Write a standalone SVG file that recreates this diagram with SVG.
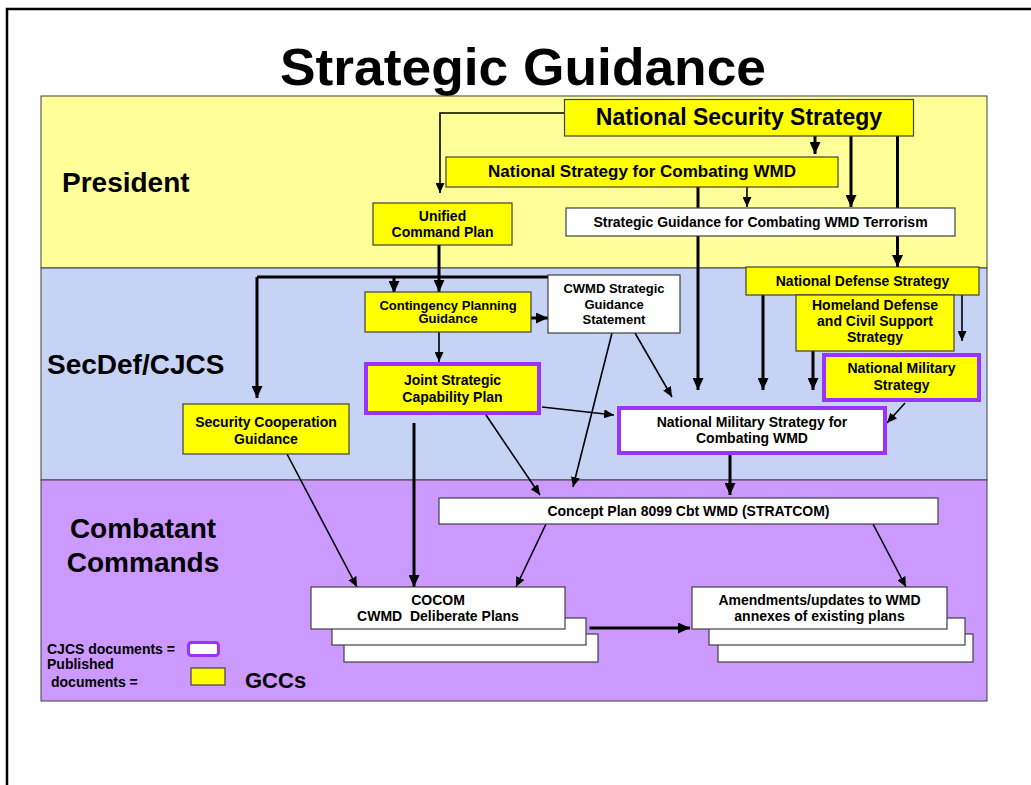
<svg xmlns="http://www.w3.org/2000/svg" width="1031" height="785" viewBox="0 0 1031 785">
<defs>
<style>
text{font-family:"Liberation Sans",Arial,sans-serif;font-weight:bold;fill:#000;}
.c{text-anchor:middle;}
.box{stroke:#404040;stroke-width:1.2;}
.y{fill:#FFFF00;}
.w{fill:#FFFFFF;}
.pb{fill:none;stroke:#9933FF;stroke-width:4;}
.thick{stroke:#000;stroke-width:3;fill:none;marker-end:url(#ab);}
.thin{stroke:#000;stroke-width:1.6;fill:none;marker-end:url(#as);}
.n14{font-size:14px;}
.n13{font-size:13px;}
</style>
<marker id="ab" markerWidth="12" markerHeight="11" refX="12" refY="5.5" orient="auto" markerUnits="userSpaceOnUse"><path d="M0,0 L12,5.5 L0,11 z" fill="#000"/></marker>
<marker id="as" markerWidth="10" markerHeight="9" refX="10" refY="4.5" orient="auto" markerUnits="userSpaceOnUse"><path d="M0,0 L10,4.5 L0,9 z" fill="#000"/></marker>
</defs>
<rect width="1031" height="785" fill="#fff"/>
<path d="M7,785 V9 H1031" fill="none" stroke="#000" stroke-width="2.5"/>
<text x="523" y="85" class="c" font-size="52" textLength="486" lengthAdjust="spacingAndGlyphs">Strategic Guidance</text>
<g id="bands">
<rect x="41" y="96" width="946" height="172" fill="#FFFF99" stroke="#404040" stroke-width="1"/>
<rect x="41" y="268" width="946" height="212" fill="#C6D3F5" stroke="#404040" stroke-width="1"/>
<rect x="41" y="480" width="946" height="221" fill="#CC99FF" stroke="#404040" stroke-width="1"/>
<text x="62" y="192" font-size="28">President</text>
<text x="47" y="374" font-size="28">SecDef/CJCS</text>
<text x="143" y="538" class="c" font-size="28">Combatant</text>
<text x="143" y="572" class="c" font-size="28">Commands</text>
</g>
<g id="connectors">
<path class="thin" d="M564,113 H440 V193" stroke-width="1.3"/>
<path class="thick" d="M815,136 V154"/>
<path class="thick" d="M851,136 V207"/>
<path class="thick" d="M897.5,136 V267"/>
<path class="thin" d="M747,187 V207"/>
<path class="thick" d="M698,187 V390"/>
<path class="thick" d="M439,245 V292"/>
<path d="M548,277 H257" stroke="#000" stroke-width="3" fill="none"/>
<path class="thick" d="M257,277 V398"/>
<path class="thick" d="M394,277 V293"/>
<path class="thick" d="M531,318 H548"/>
<path class="thin" d="M439,332 V362" stroke-width="2"/>
<path class="thin" d="M612,333 L573,487"/>
<path class="thin" d="M635,333 L672,397"/>
<path class="thin" d="M542,407 L614,415"/>
<path class="thin" d="M486,415 L540,495"/>
<path class="thick" d="M414,423 V587"/>
<path class="thin" d="M287,454 L357,587"/>
<path class="thick" d="M763,295 V390"/>
<path class="thick" d="M813,351 V390"/>
<path class="thin" d="M962,295 V341" stroke-width="2.4"/>
<path class="thin" d="M905,403 L887,423" stroke-width="2"/>
<path class="thick" d="M730,455 V495"/>
<path class="thin" d="M546,524 L516,587"/>
<path class="thin" d="M873,524 L906,587"/>
<path class="thick" d="M589.5,628 H690"/>
</g>
<g id="nss">
<rect class="box y" x="564.5" y="99.5" width="349" height="36.5"/>
<text x="739" y="125" class="c" font-size="23">National Security Strategy</text>
</g>
<g id="nscwmd">
<rect class="box y" x="446" y="157" width="392" height="30"/>
<text x="642" y="177" class="c" font-size="17">National Strategy for Combating WMD</text>
</g>
<g id="ucp">
<rect class="box y" x="373" y="203" width="139" height="42"/>
<text x="442.5" y="221" class="c n14">Unified</text>
<text x="442.5" y="237" class="c n14">Command Plan</text>
</g>
<g id="sgcwmdt">
<rect class="box w" x="566" y="208" width="389" height="28"/>
<text x="760.5" y="227" class="c n14">Strategic Guidance for Combating WMD Terrorism</text>
</g>
<g id="nds">
<rect class="box y" x="746" y="267" width="233" height="28"/>
<text x="862.5" y="286" class="c n14">National Defense Strategy</text>
</g>
<g id="hdcss">
<rect class="box y" x="796" y="295" width="158" height="56"/>
<text x="875" y="310" class="c n14">Homeland Defense</text>
<text x="875" y="326" class="c n14">and Civil Support</text>
<text x="875" y="342" class="c n14">Strategy</text>
</g>
<g id="nms">
<rect class="y" x="824" y="355" width="155" height="45"/>
<rect class="pb" x="824" y="355" width="155" height="45"/>
<text x="901.5" y="373" class="c n14">National Military</text>
<text x="901.5" y="390" class="c n14">Strategy</text>
</g>
<g id="cwmdsgs">
<rect class="box w" x="548" y="275" width="132" height="58"/>
<text x="614" y="293" class="c n13">CWMD Strategic</text>
<text x="614" y="309" class="c n13">Guidance</text>
<text x="614" y="324" class="c n13">Statement</text>
</g>
<g id="cpg">
<rect class="box y" x="365" y="292" width="166" height="40"/>
<text x="448" y="310" class="c n13">Contingency Planning</text>
<text x="448" y="323" class="c n13">Guidance</text>
</g>
<g id="jscp">
<rect class="y" x="366" y="364" width="173" height="49"/>
<rect class="pb" x="366" y="364" width="173" height="49"/>
<text x="452.5" y="385" class="c n14">Joint Strategic</text>
<text x="452.5" y="402" class="c n14">Capability Plan</text>
</g>
<g id="scg">
<rect class="box y" x="183" y="404" width="166" height="50"/>
<text x="266" y="427" class="c n14">Security Cooperation</text>
<text x="266" y="444" class="c n14">Guidance</text>
</g>
<g id="nmscwmd">
<rect class="w" x="619" y="408" width="266" height="45"/>
<rect class="pb" x="619" y="408" width="266" height="45"/>
<text x="752" y="427" class="c n14">National Military Strategy for</text>
<text x="752" y="443" class="c n14">Combating WMD</text>
</g>
<g id="concept">
<rect class="box w" x="439" y="498" width="499" height="26"/>
<text x="688.5" y="516" class="c n14">Concept Plan 8099 Cbt WMD (STRATCOM)</text>
</g>
<g id="cocom">
<rect class="box w" x="344" y="634" width="254" height="28"/>
<rect class="box w" x="332" y="618" width="254" height="27"/>
<rect class="box w" x="311" y="587" width="254" height="42"/>
<text x="438" y="605" class="c n14">COCOM</text>
<text x="438" y="621" class="c n14" xml:space="preserve">CWMD  Deliberate Plans</text>
</g>
<g id="amend">
<rect class="box w" x="718" y="634" width="255" height="28"/>
<rect class="box w" x="709" y="618" width="256" height="27"/>
<rect class="box w" x="692" y="587" width="255" height="42"/>
<text x="819.5" y="605" class="c n14">Amendments/updates to WMD</text>
<text x="819.5" y="621" class="c n14">annexes of existing plans</text>
</g>
<g id="legend">
<text x="47" y="654" font-size="14">CJCS documents =</text>
<rect x="188.5" y="642.5" width="30" height="13" rx="3" fill="#fff" stroke="#9933FF" stroke-width="3"/>
<text x="47" y="669" font-size="14">Published</text>
<text x="51" y="687" font-size="14">documents =</text>
<rect class="box y" x="191" y="668" width="34" height="17"/>
<text x="245" y="688" font-size="22">GCCs</text>
</g>
</svg>
